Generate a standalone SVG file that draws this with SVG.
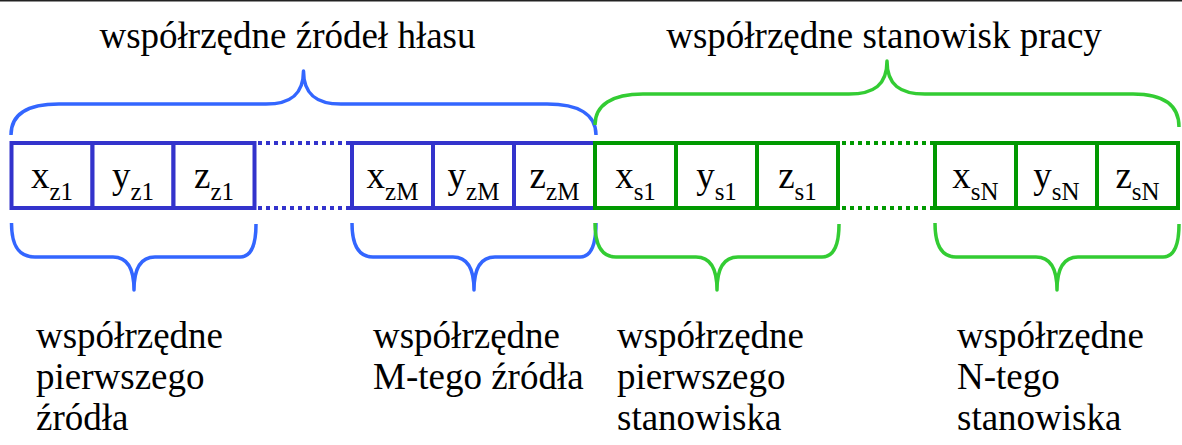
<svg xmlns="http://www.w3.org/2000/svg" width="1182" height="445" viewBox="0 0 1182 445">
  <style>
    text { font-family: "Times New Roman", "Liberation Serif", Times, "DejaVu Serif", serif; fill: #000; }
    .t { font-size: 37px; }
    .title { font-size: 37px; text-anchor: middle; }
    .cell-text { font-size: 37px; text-anchor: middle; }
    .sub { font-size: 25px; }
    .cell-z { fill: #fff; stroke: #3333cc; stroke-width: 4; }
    .cell-s { fill: #fff; stroke: #009900; stroke-width: 4; }
    .dots-z { stroke: #3333cc; stroke-width: 4; stroke-dasharray: 4 4; fill: none; }
    .dots-s { stroke: #009900; stroke-width: 4; stroke-dasharray: 4 4; fill: none; }
    .brace-z { fill: none; stroke: #3366ff; stroke-width: 3.5; stroke-linejoin: round; }
    .brace-s { fill: none; stroke: #33cc33; stroke-width: 3.5; stroke-linejoin: round; }
  </style>

  <rect x="0" y="0" width="1182" height="1.5" fill="#222"/>

  <!-- group titles -->
  <g id="title-sources">
    <text class="title" x="287.5" y="48">współrzędne źródeł hłasu</text>
  </g>
  <g id="title-stations">
    <text class="title" x="884" y="48">współrzędne stanowisk pracy</text>
  </g>

  <!-- braces -->
  <g id="connectors">
    <path class="brace-z" d="M 11,135 C 11,114 28,104 59,104 L 266,104 C 290,104 303.5,95 303.5,71 C 303.5,95 317,104 341,104 L 547,104 C 578,104 596,114 596,135"/>
    <path class="brace-s" d="M 595,125 C 595,105 612,94 643,94 L 849,94 C 874,94 887,85 887,61 C 887,85 900,94 925,94 L 1133,94 C 1163,94 1179,105 1179,127"/>

    <path class="brace-z" d="M 11.5,223 C 11.5,248 20,257 35,257 L 113,257 C 126,257 134,266 134,290 C 134,266 142,257 155,257 L 240,257 C 250,257 256,248 256,224"/>
    <path class="brace-z" d="M 352,223 C 352,248 360,257 373,257 L 453,257 C 466,257 474,266 474,290 C 474,266 482,257 495,257 L 580,257 C 590,257 596,248 596,223"/>
    <path class="brace-s" d="M 595,223 C 595,248 603,257 616,257 L 696,257 C 709,257 717,266 717,290 C 717,266 725,257 738,257 L 822,257 C 832,257 839,248 839,224"/>
    <path class="brace-s" d="M 935,223 C 935,248 943,257 956,257 L 1036,257 C 1049,257 1057,266 1057,290 C 1057,266 1065,257 1078,257 L 1163,257 C 1173,257 1179,248 1179,224"/>
  </g>

  <!-- gaps between the first and the last triple of each group -->
  <g id="gap-sources">
    <line class="dots-z" x1="258" y1="143" x2="350" y2="143"/>
    <line class="dots-z" x1="258" y1="208" x2="350" y2="208"/>
  </g>
  <g id="gap-stations">
    <line class="dots-s" x1="842" y1="143" x2="933" y2="143"/>
    <line class="dots-s" x1="842" y1="208" x2="933" y2="208"/>
  </g>

  <!-- first source -->
  <g id="cell-xz1">
    <rect class="cell-z" x="11.5" y="143" width="81" height="65"/>
    <text class="cell-text" x="52" y="188">x<tspan class="sub" dy="12">z1</tspan></text>
  </g>
  <g id="cell-yz1">
    <rect class="cell-z" x="92.5" y="143" width="81" height="65"/>
    <text class="cell-text" x="133" y="188">y<tspan class="sub" dy="12">z1</tspan></text>
  </g>
  <g id="cell-zz1">
    <rect class="cell-z" x="173.5" y="143" width="81" height="65"/>
    <text class="cell-text" x="214" y="188">z<tspan class="sub" dy="12">z1</tspan></text>
  </g>

  <!-- M-th source -->
  <g id="cell-xzM">
    <rect class="cell-z" x="352" y="143" width="81" height="65"/>
    <text class="cell-text" x="392.5" y="188">x<tspan class="sub" dy="12">zM</tspan></text>
  </g>
  <g id="cell-yzM">
    <rect class="cell-z" x="433" y="143" width="81" height="65"/>
    <text class="cell-text" x="473.5" y="188">y<tspan class="sub" dy="12">zM</tspan></text>
  </g>
  <g id="cell-zzM">
    <rect class="cell-z" x="514" y="143" width="81" height="65"/>
    <text class="cell-text" x="554.5" y="188">z<tspan class="sub" dy="12">zM</tspan></text>
  </g>

  <!-- first work station -->
  <g id="cell-xs1">
    <rect class="cell-s" x="595" y="143" width="81" height="65"/>
    <text class="cell-text" x="635.5" y="188">x<tspan class="sub" dy="12">s1</tspan></text>
  </g>
  <g id="cell-ys1">
    <rect class="cell-s" x="676" y="143" width="81" height="65"/>
    <text class="cell-text" x="716.5" y="188">y<tspan class="sub" dy="12">s1</tspan></text>
  </g>
  <g id="cell-zs1">
    <rect class="cell-s" x="757" y="143" width="81" height="65"/>
    <text class="cell-text" x="797.5" y="188">z<tspan class="sub" dy="12">s1</tspan></text>
  </g>

  <!-- N-th work station -->
  <g id="cell-xsN">
    <rect class="cell-s" x="935" y="143" width="81" height="65"/>
    <text class="cell-text" x="975.5" y="188">x<tspan class="sub" dy="12">sN</tspan></text>
  </g>
  <g id="cell-ysN">
    <rect class="cell-s" x="1016" y="143" width="81" height="65"/>
    <text class="cell-text" x="1056.5" y="188">y<tspan class="sub" dy="12">sN</tspan></text>
  </g>
  <g id="cell-zsN">
    <rect class="cell-s" x="1097" y="143" width="81" height="65"/>
    <text class="cell-text" x="1137.5" y="188">z<tspan class="sub" dy="12">sN</tspan></text>
  </g>

  <!-- captions under the braces -->
  <g id="label-first-source">
    <text class="t" x="36" y="348">współrzędne</text>
    <text class="t" x="36" y="389">pierwszego</text>
    <text class="t" x="36" y="430">źródła</text>
  </g>
  <g id="label-m-source">
    <text class="t" x="373" y="348">współrzędne</text>
    <text class="t" x="373" y="389">M-tego źródła</text>
  </g>
  <g id="label-first-station">
    <text class="t" x="617" y="348">współrzędne</text>
    <text class="t" x="617" y="389">pierwszego</text>
    <text class="t" x="617" y="430">stanowiska</text>
  </g>
  <g id="label-n-station">
    <text class="t" x="957" y="348">współrzędne</text>
    <text class="t" x="957" y="389">N-tego</text>
    <text class="t" x="957" y="430">stanowiska</text>
  </g>
</svg>
